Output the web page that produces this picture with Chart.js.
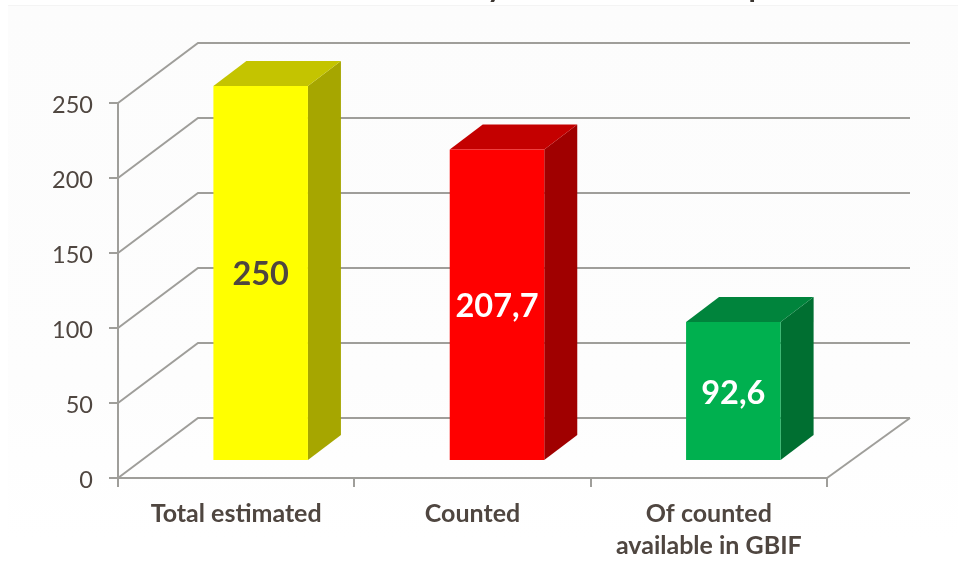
<!DOCTYPE html>
<html>
<head>
<meta charset="utf-8">
<script src="https://cdn.jsdelivr.net/npm/chart.js@4/dist/chart.umd.min.js"></script>
<style>
html,body{margin:0;padding:0;background:#fff;overflow:hidden}
canvas{display:block}
</style>
</head>
<body>
<canvas id="c" width="958" height="580"></canvas>
<script>
const categories = ["Total estimated", "Counted", ["Of counted", "available in GBIF"]];
const values = [250, 207.7, 92.6];
const yTicks = [0, 50, 100, 150, 200, 250];
const faceColors = ["#FFFF00", "#FF0000", "#00B04F"];
const topColors = ["#C4C400", "#C40000", "#00843C"];
const sideColors = ["#A6A600", "#A00000", "#006F31"];
const labelColors = ["#4F4640", "#FFFFFF", "#FFFFFF"];
const titleFragments = [["y", 495], ["p", 757]];

const LINE = "#9F9E9A";
const TEXT = "#4F4640";
const FONT = "Lato";
const WALL = {dx: 80, dy: -60, rightDx: 83};
const BAR_SHIFT = {dx: 24.5, dy: -17};
const BAR_DEPTH = {dx: 33, dy: -25};

function poly(ctx, pts, color) {
  ctx.fillStyle = color;
  ctx.beginPath();
  pts.forEach((p, i) => i ? ctx.lineTo(p[0], p[1]) : ctx.moveTo(p[0], p[1]));
  ctx.closePath();
  ctx.fill();
}

const backdrop = {
  id: "backdrop",
  beforeDraw(chart) {
    const {ctx, width, height} = chart;
    ctx.save();
    ctx.fillStyle = "#FFFFFF";
    ctx.fillRect(0, 0, width, height);
    const g = ctx.createLinearGradient(0, 5, 0, 540);
    g.addColorStop(0, "#FCFCFC");
    g.addColorStop(0.7, "#FDFDFD");
    g.addColorStop(1, "#FFFFFF");
    ctx.fillStyle = g;
    ctx.fillRect(8, 6, width - 8, height - 6);
    ctx.fillStyle = "#F4F4F4";
    ctx.fillRect(8, 5, width - 8, 1);
    ctx.fillStyle = "#3A342F";
    ctx.font = "bold 30px " + FONT;
    ctx.textAlign = "center";
    ctx.textBaseline = "alphabetic";
    titleFragments.forEach(([t, x]) => ctx.fillText(t, x, -3));
    ctx.restore();
  }
};

const wall = {
  id: "wall",
  beforeDatasetsDraw(chart) {
    const {ctx, chartArea: a, scales: {y}} = chart;
    ctx.save();
    ctx.strokeStyle = LINE;
    ctx.lineWidth = 2;
    yTicks.forEach(v => {
      const py = y.getPixelForValue(v);
      ctx.beginPath();
      ctx.moveTo(a.left, py);
      ctx.lineTo(a.left + WALL.dx, py + WALL.dy);
      ctx.lineTo(a.right + WALL.rightDx, py + WALL.dy);
      ctx.stroke();
    });
    const py0 = y.getPixelForValue(0);
    ctx.beginPath();
    ctx.moveTo(a.right, py0);
    ctx.lineTo(a.right + WALL.rightDx, py0 + WALL.dy);
    ctx.stroke();
    ctx.restore();
  }
};

const solid = {
  id: "solid",
  beforeDatasetDraw(chart, args) {
    const ctx = chart.ctx;
    ctx.save();
    ctx.translate(BAR_SHIFT.dx, BAR_SHIFT.dy);
    args.meta.data.forEach((b, i) => {
      const l = b.x - b.width / 2, r = b.x + b.width / 2, t = b.y, bt = b.base;
      const dx = BAR_DEPTH.dx, dy = BAR_DEPTH.dy;
      poly(ctx, [[r, t], [r + dx, t + dy], [r + dx, bt + dy], [r, bt]], sideColors[i]);
      poly(ctx, [[l, t], [l + dx, t + dy], [r + dx, t + dy], [r, t]], topColors[i]);
    });
  },
  afterDatasetDraw(chart, args) {
    const ctx = chart.ctx;
    ctx.font = "bold 32.5px " + FONT;
    ctx.textAlign = "center";
    ctx.textBaseline = "middle";
    args.meta.data.forEach((b, i) => {
      ctx.fillStyle = labelColors[i];
      ctx.fillText(String(values[i]).replace(".", ","), b.x, (b.y + b.base) / 2 + 2);
    });
    ctx.restore();
  }
};

new Chart(document.getElementById("c"), {
  type: "bar",
  data: {
    labels: categories,
    datasets: [{data: values, backgroundColor: faceColors, borderWidth: 0, barPercentage: 0.4, categoryPercentage: 1}]
  },
  plugins: [backdrop, wall, solid],
  options: {
    responsive: false,
    animation: false,
    layout: {padding: {top: 103, right: 131, left: 0, bottom: 0}},
    plugins: {legend: {display: false}, tooltip: {enabled: false}, title: {display: false}},
    scales: {
      x: {
        afterFit(s) { s.height = 102; },
        border: {color: LINE, width: 2},
        grid: {drawOnChartArea: false, drawTicks: true, tickLength: 9, color: LINE, lineWidth: 2, offset: true},
        ticks: {color: TEXT, font: {family: FONT, weight: "bold", size: 25, lineHeight: 1.28}, padding: 11, maxRotation: 0, autoSkip: false}
      },
      y: {
        min: 0, max: 250,
        afterFit(s) { s.width = 118; },
        afterBuildTicks(s) { s.ticks = yTicks.map(v => ({value: v})); },
        border: {color: LINE, width: 2},
        grid: {drawOnChartArea: false, drawTicks: true, tickLength: 9, color: LINE, lineWidth: 2},
        ticks: {
          color: TEXT,
          font: {family: FONT, size: 23.5, lineHeight: "5px"},
          padding: 16,
          callback: v => ["", String(v)]
        }
      }
    }
  }
});
</script>
</body>
</html>
